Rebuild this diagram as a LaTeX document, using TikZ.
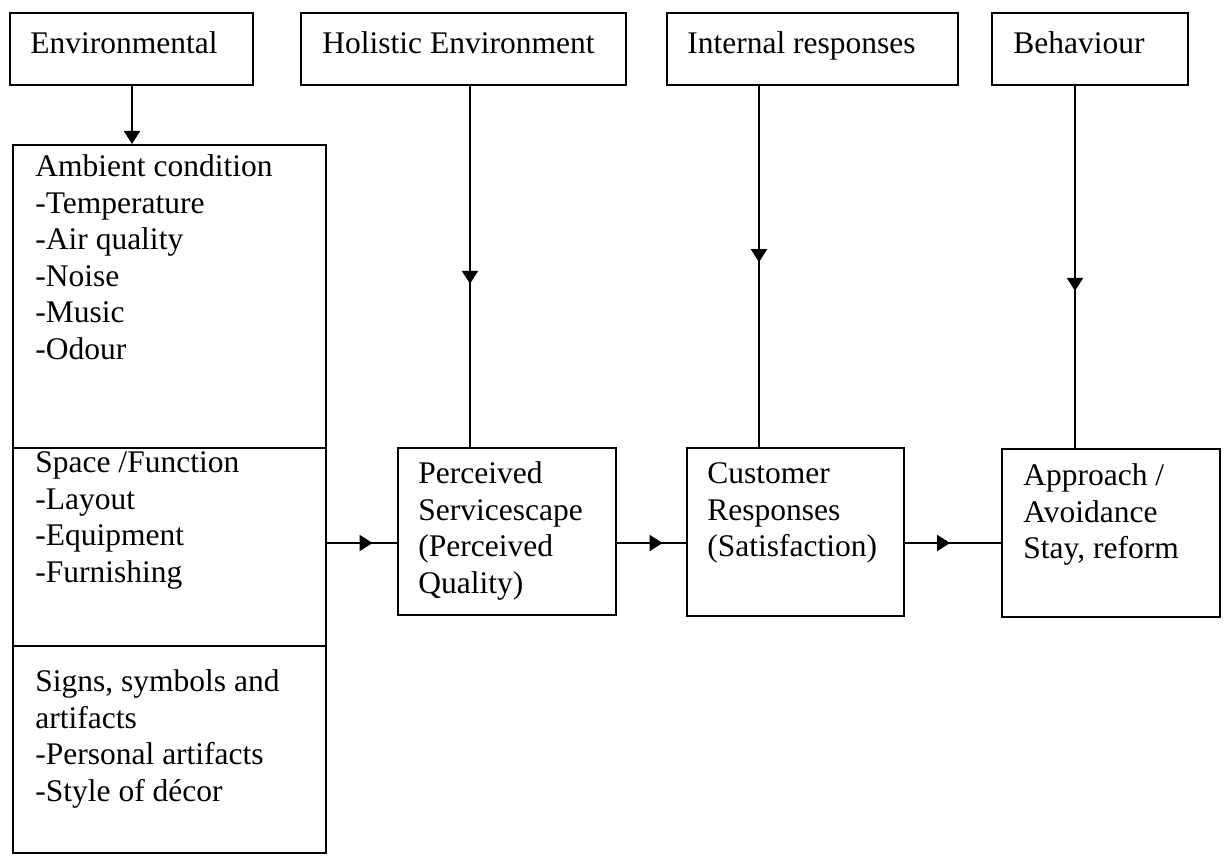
\documentclass[tikz,border=0pt]{standalone}
\usepackage{fontspec}
\setmainfont{Liberation Serif}
\usetikzlibrary{arrows.meta, decorations.markings}

\begin{document}
\begin{tikzpicture}[x=0.5pt, y=0.5pt,
    box/.style 2 args={draw, line width=1pt, anchor=north west, inner sep=0pt,
        minimum width=#1*0.5pt, minimum height=#2*0.5pt},
    txt/.style={anchor=north west, inner sep=0pt, align=left, yshift=0.7*18.25pt,
        font=\fontsize{15.75pt}{18.25pt}\selectfont, execute at begin node=\strut},
    midarrow/.style={line width=1pt, postaction={decorate},
        decoration={markings, mark=at position #1 with {\arrow{Triangle[length=6.5pt,width=8pt]}}}}]

    % Define page size
    \useasboundingbox (0,0) rectangle (1226,-856);

    % Define where the connectors run
    \coordinate (envX) at (132,0);
    \coordinate (holX) at (470,0);
    \coordinate (intX) at (759,0);
    \coordinate (behX) at (1075,0);
    \coordinate (flowY) at (0,-543);

    % Draw the top boxes
    \node[box={243}{72}] (env) at (9,-12) {};
    \node[box={325}{72}] (hol) at (300,-12) {};
    \node[box={291}{72}] (int) at (666,-12) {};
    \node[box={196}{72}] (beh) at (991,-12) {};

    % Draw the tall box in three parts
    \node[box={313}{303}] (amb) at (12,-144) {};
    \node[box={313}{198}] (spc) at (12,-447) {};
    \node[box={313}{207}] (sgn) at (12,-645) {};

    % Draw the outcome boxes
    \node[box={218}{167}] (perc) at (397,-447) {};
    \node[box={217}{168}] (cust) at (686,-447) {};
    \node[box={218}{168}] (appr) at (1001,-448) {};

    % Texts in the boxes (placed at the first baseline)
    \node[txt] (envT) at (30,-53) {Environmental};
    \node[txt] (holT) at (322,-53) {Holistic Environment};
    \node[txt] (intT) at (687,-53) {Internal responses};
    \node[txt] (behT) at (1013,-53) {Behaviour};
    \node[txt] (ambT) at (35,-180) {Ambient condition\\-Temperature\\-Air quality\\-Noise\\-Music\\-Odour};
    \node[txt] (spcT) at (35,-477) {Space /Function\\-Layout\\-Equipment\\-Furnishing};
    \node[txt] (sgnT) at (35,-695) {Signs, symbols and\\artifacts\\-Personal artifacts\\-Style of décor};
    \node[txt] (percT) at (418,-487) {Perceived\\Servicescape\\(Perceived\\Quality)};
    \node[txt] (custT) at (707,-488) {Customer\\Responses\\(Satisfaction)};
    \node[txt] (apprT) at (1023,-489) {Approach /\\Avoidance\\Stay, reform};

    % Draw the connectors
    \draw[line width=1pt, -{Triangle[length=6.5pt,width=8pt]}] (env.south -| envX) -- (amb.north -| envX);
    \draw[midarrow=0.548] (hol.south -| holX) -- (perc.north -| holX);
    \draw[midarrow=0.488] (int.south -| intX) -- (cust.north -| intX);
    \draw[midarrow=0.566] (beh.south -| behX) -- (appr.north -| behX);
    \draw[midarrow=0.65] (spc.east |- flowY) -- (perc.west |- flowY);
    \draw[midarrow=0.66] (perc.east |- flowY) -- (cust.west |- flowY);
    \draw[midarrow=0.47] (cust.east |- flowY) -- (appr.west |- flowY);

\end{tikzpicture}
\end{document}
